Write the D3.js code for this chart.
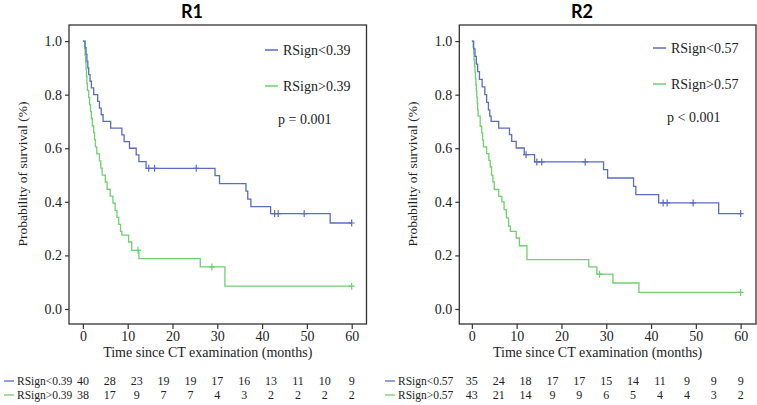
<!DOCTYPE html>
<html>
<head>
<meta charset="utf-8">
<title>KM curves</title>
<script src="https://cdn.jsdelivr.net/npm/d3@7/dist/d3.min.js"></script>
<style>
body { margin: 0; background: white; }
text { font-family: "Liberation Serif", "DejaVu Serif", serif; fill: #222; }
.title { font-family: Lato, "Open Sans", sans-serif; font-weight: 700; fill: #000; }
.axis path { display: none; }
.axis line { stroke: #333; stroke-width: 1.2px; }
</style>
</head>
<body>
<script>
// ---- data ----
var riskTimes = [0, 6, 12, 18, 24, 30, 36, 42, 48, 54, 60];
var yTicks = [0, 0.2, 0.4, 0.6, 0.8, 1.0];
var xTicks = [0, 10, 20, 30, 40, 50, 60];

// R1
var r1BlueTime = [0, 0.5, 0.7, 0.9, 1.1, 1.3, 1.6, 1.9, 2.4, 3.3, 3.7, 4.1, 4.5, 6.2, 8.7, 9.2, 10.4, 11.9, 12.5, 14.1, 29.5, 30.5, 36.4, 36.8, 37.5, 41.9, 55.2, 60];
var r1BlueSurv = [1, .975, .95, .925, .9, .875, .85, .825, .8, .775, .75, .725, .7, .675, .65, .625, .6, .575, .55, .525, .498, .468, .44, .41, .382, .356, .321, .321];
var r1BlueCens = [14.7, 16.0, 25.3, 42.8, 43.6, 49.4, 60];
var r1GreenTime = [0, 0.4, 0.5, 0.6, 0.7, 0.8, 0.9, 1.0, 1.3, 1.5, 1.7, 1.9, 2.1, 2.4, 2.6, 2.8, 3.1, 3.7, 4.0, 4.3, 5.0, 5.4, 6.1, 6.7, 7.2, 7.6, 8.0, 8.4, 8.7, 10.2, 10.9, 12.5, 26.2, 31.7, 60];
var r1GreenSurv = [1, .974, .947, .921, .895, .868, .842, .816, .789, .763, .737, .711, .684, .658, .632, .605, .579, .553, .526, .5, .474, .447, .421, .395, .368, .342, .316, .29, .276, .25, .219, .188, .157, .085, .085];
var r1GreenCens = [12.3, 28.8, 60];
var r1BlueRisk = [40, 28, 23, 19, 19, 17, 16, 13, 11, 10, 9];
var r1GreenRisk = [38, 17, 9, 7, 7, 4, 3, 2, 2, 2, 2];

// R2
var r2BlueTime = [0, 0.4, 0.7, 1.0, 1.3, 1.7, 2.3, 2.9, 3.3, 3.7, 4.0, 4.3, 6.0, 8.4, 8.9, 9.9, 11.7, 14.0, 29.4, 30.3, 36.1, 36.6, 41.7, 55.1, 60];
var r2BlueSurv = [1, .971, .943, .914, .886, .857, .829, .8, .771, .743, .72, .70, .675, .651, .626, .601, .576, .549, .52, .489, .458, .427, .396, .356, .356];
var r2BlueCens = [12.1, 14.5, 15.6, 25.3, 42.7, 43.6, 49.4, 60];
var r2GreenTime = [0, .3, .4, .5, .6, .7, .8, .9, 1.0, 1.1, 1.2, 1.3, 1.4, 1.86, 2.2, 2.4, 2.6, 3.3, 3.8, 4.1, 4.4, 4.7, 5.0, 6.0, 6.7, 7.2, 7.7, 8.2, 8.6, 9.9, 10.6, 12.3, 26.1, 27.9, 31.5, 37.3, 60];
var r2GreenSurv = [1, .977, .953, .93, .907, .884, .86, .837, .814, .791, .767, .744, .72, .682, .657, .63, .605, .58, .555, .53, .5, .475, .446, .42, .4, .371, .34, .309, .29, .265, .236, .184, .157, .13, .097, .062, .062];
var r2GreenCens = [28.5, 60];
var r2BlueRisk = [35, 24, 18, 17, 17, 15, 14, 11, 9, 9, 9];
var r2GreenRisk = [43, 21, 14, 9, 9, 6, 5, 4, 4, 3, 2];

var blue = "#5a6cc4", green = "#6fd06f";

var width = 757, height = 405;
var svg = d3.select("body").append("svg").attr("width", width).attr("height", height).style("background", "white");

var panels = [
  { title: "R1", titleX: 192, left: 69, right: 366.5, xmin: -3.1,
    blueT: r1BlueTime, blueS: r1BlueSurv, blueC: r1BlueCens,
    greenT: r1GreenTime, greenS: r1GreenSurv, greenC: r1GreenCens,
    labels: ["RSign<0.39", "RSign>0.39"], p: "p = 0.001", legX: 265, legY: 50, pX: 278,
    risk: [r1BlueRisk, r1GreenRisk], tabX: 4 },
  { title: "R2", titleX: 582, left: 459.3, right: 756, xmin: -2.8,
    blueT: r2BlueTime, blueS: r2BlueSurv, blueC: r2BlueCens,
    greenT: r2GreenTime, greenS: r2GreenSurv, greenC: r2GreenCens,
    labels: ["RSign<0.57", "RSign>0.57"], p: "p < 0.001", legX: 653, legY: 48, pX: 667,
    risk: [r2BlueRisk, r2GreenRisk], tabX: 385 }
];

var plotTop = 25, plotBottom = 324;
var y = d3.scaleLinear().domain([-0.056, 1.06]).range([plotBottom, plotTop]);

function survAt(times, surv, t) {
  var i = d3.bisectRight(times, t) - 1;
  return surv[Math.max(0, i)];
}

panels.forEach(function(p) {
  var x = d3.scaleLinear().domain([p.xmin, p.xmin + (p.right - p.left) / 4.48]).range([p.left, p.right]);
  var g = svg.append("g");

  g.append("text").attr("class", "title").attr("x", p.titleX).attr("y", 18)
    .attr("text-anchor", "middle").style("font-size", "18px").text(p.title);

  g.append("rect").attr("x", p.left).attr("y", plotTop).attr("width", p.right - p.left).attr("height", plotBottom - plotTop)
    .attr("fill", "none").attr("stroke", "#333").attr("stroke-width", 1.3);

  var ya = g.append("g").attr("class", "axis").attr("transform", "translate(" + p.left + ",0)")
    .call(d3.axisLeft(y).tickValues(yTicks).tickFormat(d3.format(".1f")).tickSize(4).tickPadding(3));
  ya.selectAll("text").style("font-size", "14px").attr("fill", "#222");

  var xa = g.append("g").attr("class", "axis").attr("transform", "translate(0," + plotBottom + ")")
    .call(d3.axisBottom(x).tickValues(xTicks).tickSize(5).tickPadding(2));
  xa.selectAll("text").style("font-size", "14px").attr("fill", "#222");

  g.append("text").attr("x", (p.left + p.right) / 2 - 10).attr("y", 357).attr("text-anchor", "middle")
    .style("font-size", "14px").text("Time since CT examination (months)");
  g.append("text").attr("transform", "translate(" + (p.left - 42) + ",174) rotate(-90)")
    .attr("text-anchor", "middle").style("font-size", "13.5px").text("Probability of survival (%)");

  var line = d3.line().x(function(d) { return x(d[0]); }).y(function(d) { return y(d[1]); }).curve(d3.curveStepAfter);
  var series = [
    { t: p.greenT, s: p.greenS, c: p.greenC, col: green },
    { t: p.blueT, s: p.blueS, c: p.blueC, col: blue }
  ];
  series.forEach(function(sr) {
    g.append("path").datum(d3.zip(sr.t, sr.s)).attr("d", line)
      .attr("fill", "none").attr("stroke", sr.col).attr("stroke-width", 1.3);
    g.selectAll(null).data(sr.c).enter().append("path")
      .attr("d", function(t) {
        var cx = x(t), cy = y(survAt(sr.t, sr.s, t));
        return "M" + (cx - 3) + "," + cy + "H" + (cx + 3) + "M" + cx + "," + (cy - 3.5) + "V" + (cy + 3.5);
      })
      .attr("stroke", sr.col).attr("stroke-width", 1.2).attr("fill", "none");
  });

  // legend
  [blue, green].forEach(function(col, i) {
    var ly = p.legY + i * 36;
    g.append("line").attr("x1", p.legX).attr("x2", p.legX + 13).attr("y1", ly).attr("y2", ly)
      .attr("stroke", col).attr("stroke-width", 1.5);
    g.append("text").attr("x", p.legX + 18).attr("y", ly + 5).style("font-size", "14px").text(p.labels[i]);
  });
  g.append("text").attr("x", p.pX).attr("y", p.legY + 74).style("font-size", "14px").text(p.p);

  // numbers at risk
  [blue, green].forEach(function(col, i) {
    var ry = 381 + i * 14;
    g.append("line").attr("x1", p.tabX).attr("x2", p.tabX + 10).attr("y1", ry).attr("y2", ry)
      .attr("stroke", col).attr("stroke-width", 1.3);
    g.append("text").attr("x", p.tabX + 13).attr("y", ry + 4).style("font-size", "11.5px").text(p.labels[i]);
    g.selectAll(null).data(d3.zip(riskTimes, p.risk[i])).enter().append("text")
      .attr("x", function(d) { return x(d[0]); }).attr("y", ry + 4)
      .attr("text-anchor", "middle").style("font-size", "12px").text(function(d) { return d[1]; });
  });
});
</script>
</body>
</html>
